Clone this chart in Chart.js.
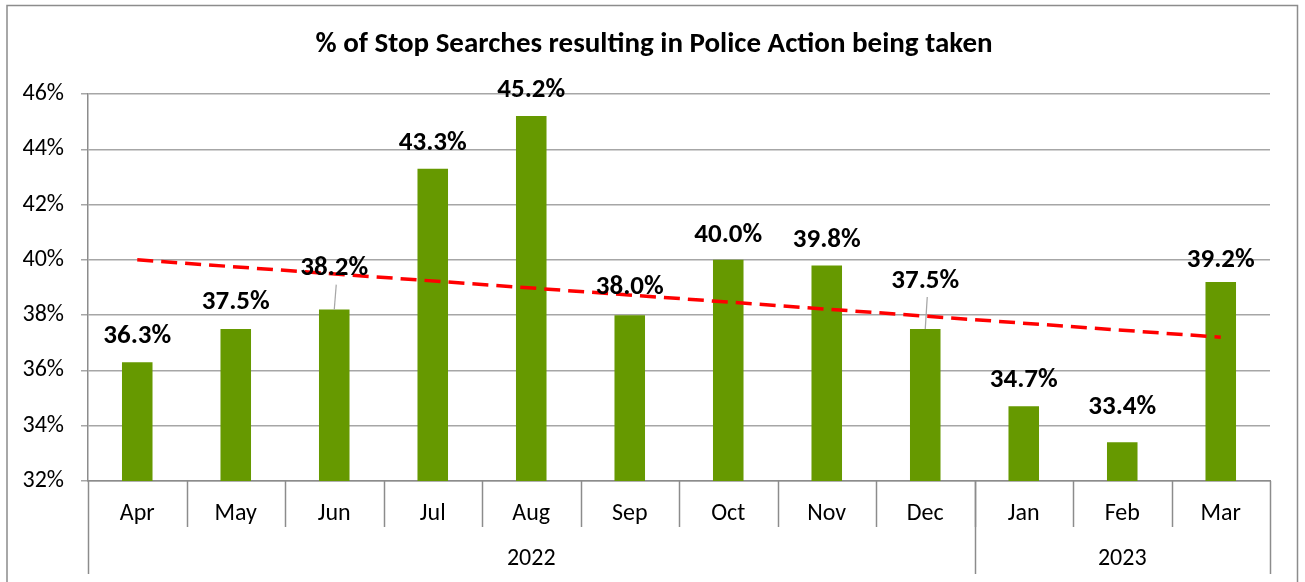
<!DOCTYPE html>
<html><head><meta charset="utf-8">
<script src="https://cdn.jsdelivr.net/npm/chart.js@4/dist/chart.umd.min.js"></script>
<style>html,body{margin:0;padding:0;background:#fff}#wrap{width:1305px;height:582px}</style>
</head><body><div id="wrap"><canvas id="c" width="1305" height="582"></canvas></div>
<script>
const titleText = '% of Stop Searches resulting in Police Action being taken';
const months = ['Apr','May','Jun','Jul','Aug','Sep','Oct','Nov','Dec','Jan','Feb','Mar'];
const values = [36.3, 37.5, 38.2, 43.3, 45.2, 38.0, 40.0, 39.8, 37.5, 34.7, 33.4, 39.2];
const yearLabels = ['2022', '2023'];
const yearSpans = [9, 3];
const trendValues = [40.0, null, null, null, null, null, null, null, null, null, null, 37.2];
const yMin = 32, yMax = 46, yStep = 2;

// label placement (style only)
const labelLift = [26, 27, 41, 25, 26, 28, 25, 25, 48, 26, 35, 22];
const labelLeader = [false, false, true, false, false, false, false, false, true, false, false, false];

const FONT = "Carlito, Lato, 'Open Sans', sans-serif";
const GRID = '#a6a6a6';
const AXIS = '#8c8c8c';

const decor = {
  id: 'decor',
  beforeDraw(chart) {
    const ctx = chart.ctx;
    ctx.save();
    ctx.fillStyle = '#fff';
    ctx.fillRect(0, 0, chart.width, chart.height);
    ctx.strokeStyle = '#8c8c8c';
    ctx.lineWidth = 1.5;
    ctx.beginPath();
    ctx.moveTo(7, 600); ctx.lineTo(7, 5.5); ctx.lineTo(1297.5, 5.5); ctx.lineTo(1297.5, 600);
    ctx.stroke();
    ctx.fillStyle = '#000';
    ctx.font = "bold 29px " + FONT;
    ctx.textAlign = 'center';
    ctx.textBaseline = 'middle';
    ctx.fillText(titleText, 654, 45);
    ctx.restore();
  },
  afterDraw(chart) {
    const ctx = chart.ctx;
    const xs = chart.scales.x;
    const ca = chart.chartArea;
    const n = months.length;
    const w = (xs.right - xs.left) / n;
    const bottom = ca.bottom;
    ctx.save();
    ctx.strokeStyle = AXIS;
    ctx.lineWidth = 1.5;
    for (let i = 1; i < n; i++) {
      const x = Math.round(xs.left + i * w) + 0.5;
      ctx.beginPath(); ctx.moveTo(x, bottom); ctx.lineTo(x, bottom + 46); ctx.stroke();
    }
    let start = 0;
    const bounds = [0];
    yearSpans.forEach(s => { start += s; bounds.push(start); });
    bounds.forEach(b => {
      const x = Math.round(xs.left + b * w) + 0.5;
      ctx.beginPath(); ctx.moveTo(x, bottom); ctx.lineTo(x, bottom + 93); ctx.stroke();
    });
    ctx.fillStyle = '#000';
    ctx.font = "24px " + FONT;
    ctx.textAlign = 'center';
    ctx.textBaseline = 'middle';
    yearLabels.forEach((lab, k) => {
      const x0 = xs.left + bounds[k] * w, x1 = xs.left + bounds[k + 1] * w;
      ctx.fillText(lab, (x0 + x1) / 2, bottom + 78);
    });
    const meta = chart.getDatasetMeta(0);
    ctx.font = "bold 27px " + FONT;
    meta.data.forEach((bar, i) => {
      const ly = bar.y - labelLift[i];
      if (labelLeader[i]) {
        ctx.strokeStyle = GRID;
        ctx.lineWidth = 1.2;
        ctx.beginPath(); ctx.moveTo(bar.x, bar.y); ctx.lineTo(bar.x + 2, ly + 16); ctx.stroke();
      }
      ctx.fillStyle = '#000';
      ctx.fillText(values[i].toFixed(1) + '%', bar.x, ly);
    });
    ctx.restore();
  }
};

new Chart(document.getElementById('c'), {
  type: 'bar',
  data: {
    labels: months,
    datasets: [
      {
        type: 'bar',
        data: values,
        backgroundColor: '#669900',
        borderWidth: 0,
        barPercentage: 0.31,
        categoryPercentage: 1.0,
        order: 2
      },
      {
        type: 'line',
        data: trendValues,
        spanGaps: true,
        borderColor: '#ff0000',
        borderWidth: 3.5,
        borderDash: [16, 8],
        pointRadius: 0,
        fill: false,
        order: 1
      }
    ]
  },
  options: {
    responsive: false,
    animation: false,
    devicePixelRatio: 1,
    layout: { padding: { left: 8, top: 94, right: 35, bottom: 0 } },
    plugins: { legend: { display: false }, title: { display: false }, tooltip: { enabled: false } },
    scales: {
      x: {
        offset: true,
        grid: { display: false },
        border: { display: true, color: AXIS, width: 1.5 },
        ticks: { color: '#000', font: { family: FONT, size: 24 }, padding: 11, maxRotation: 0 },
        afterFit(s) { s.height = 101; }
      },
      y: {
        min: yMin, max: yMax,
        afterFit(s) { s.width = 80; },
        grid: { color: GRID, lineWidth: 1.5, drawTicks: true, tickLength: 7, tickColor: GRID },
        border: { display: true, color: AXIS, width: 1.5 },
        ticks: { stepSize: yStep, color: '#000', font: { family: FONT, size: 24 }, padding: 17,
          callback: v => v + '%' }
      }
    }
  },
  plugins: [decor]
});
</script></body></html>
